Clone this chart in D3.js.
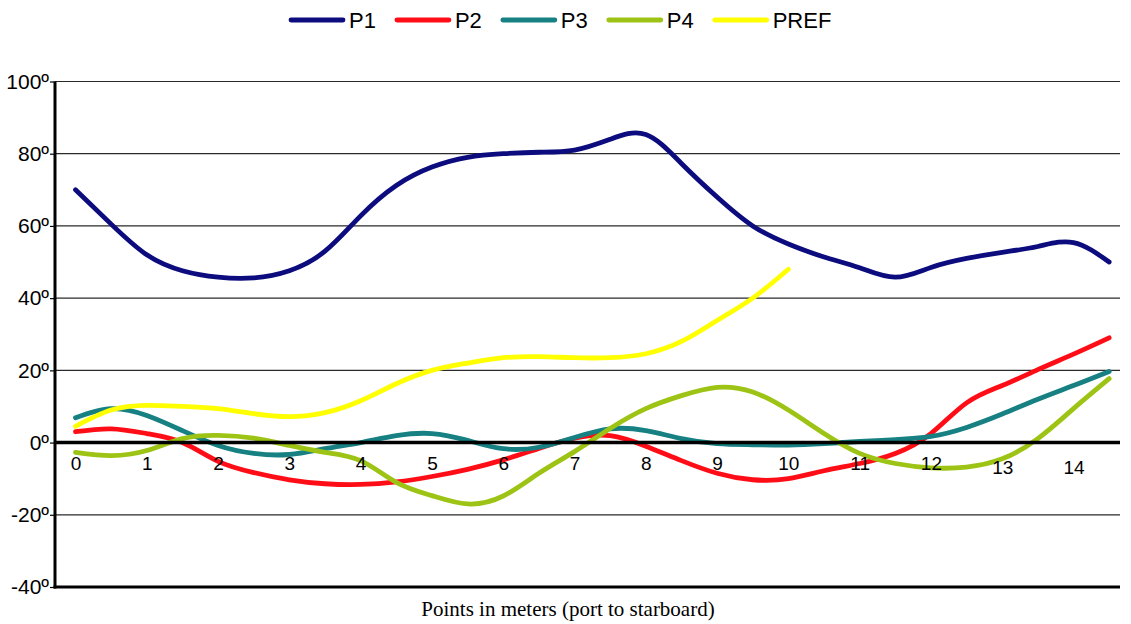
<!DOCTYPE html>
<html>
<head>
<meta charset="utf-8">
<script src="https://cdn.jsdelivr.net/npm/d3@7"></script>
<style>
  html, body { margin: 0; padding: 0; background: #fff; }
  svg { display: block; }
  text { font-family: "Liberation Sans", Arial, sans-serif; fill: #000; }
</style>
</head>
<body>
<svg id="chart" width="1131" height="624"></svg>
<script>
// ---------- data ----------
const xPoints = [0,0.5,1,1.5,2,2.5,3,3.5,4,4.5,5,5.5,6,6.5,7,7.5,8,8.5,9,9.5,10,10.5,11,11.5,12,12.5,13,13.5,14,14.5];
const xTickLabels = ["0","1","2","3","4","5","6","7","8","9","10","11","12","13","14"];
const yTickValues = [-40,-20,0,20,40,60,80,100];
const yTickLabels = ["-40º","-20º","0º","20º","40º","60º","80º","100º"];
const seriesNames = ["P1","P2","P3","P4","PREF"];
const seriesColors = ["#0c0c7e","#ff0d17","#168082","#9dc414","#ffff00"];

const p1 = [70,60.5,52,47.6,45.8,45.6,47.6,53,62.8,71.2,76.3,79,80,80.4,81,84,85.3,77.3,68,60,55,51.4,48.4,45.8,48.5,51,52.7,54.3,55.4,50];
const p2 = [3,3.8,2.5,0,-5.2,-8.3,-10.3,-11.4,-11.6,-10.9,-9.4,-7.4,-4.8,-1.6,1.2,1.9,-1,-5,-8.5,-10.3,-10,-7.8,-5.8,-3,2.5,11,15.8,20.2,24.5,29];
const p3 = [6.9,9.4,7.5,3.3,-0.8,-3,-3.3,-1.7,0,1.9,2.5,0.6,-1.7,-1.3,1.4,3.8,3.3,1.1,-0.3,-0.6,-0.7,-0.3,0.3,0.8,1.7,4.2,7.9,12,15.8,19.7];
const p4 = [-2.7,-3.6,-2.2,1.1,2,1.2,-0.8,-2.7,-5,-11,-14.7,-17,-14.8,-8.5,-2.5,3.9,9.4,13,15.3,14,9,2.5,-3,-5.8,-7,-6.8,-4.5,1.1,9.4,17.7];
const pref = [4.5,9,10.3,10,9.4,8,7.2,8.3,11.6,16.3,20,22,23.5,23.8,23.5,23.5,24.6,28,33.8,40,48];
const seriesValues = [p1, p2, p3, p4, pref];
const xTitle = "Points in meters (port to starboard)";

// ---------- layout ----------
const svg = d3.select("#chart");
const plotLeft = 55, plotRight = 1120, plotTop = 81.5, plotBottom = 587;

const x = d3.scaleLinear().domain([0, 14]).range([75.5, 1073.5]);
const y = d3.scaleLinear().domain([-40, 100]).range([plotBottom, plotTop]);

// gridlines
svg.append("g")
  .selectAll("line")
  .data(yTickValues.filter(v => v !== 0 && v !== -40))
  .join("line")
  .attr("x1", plotLeft).attr("x2", plotRight)
  .attr("y1", d => y(d)).attr("y2", d => y(d))
  .attr("stroke", "#2a2a2a").attr("stroke-width", 1.2);

// y axis (ticks + labels)
const yAxis = d3.axisLeft(y)
  .tickValues(yTickValues)
  .tickSize(5)
  .tickPadding(1)
  .tickFormat((d, i) => yTickLabels[i]);
const gy = svg.append("g").attr("transform", `translate(${plotLeft},0)`).call(yAxis);
gy.select(".domain").remove();
gy.selectAll(".tick line").attr("stroke", "#000").attr("stroke-width", 1.2);
gy.selectAll(".tick text")
  .style("font-family", '"Liberation Sans", Arial, sans-serif')
  .style("font-size", "21px").attr("fill", "#000");

// series lines
const lineGen = d3.line()
  .x((d, i) => x(xPoints[i]))
  .y(d => y(d))
  .curve(d3.curveNatural);

svg.append("g")
  .selectAll("path")
  .data(seriesValues)
  .join("path")
  .attr("d", d => lineGen(d))
  .attr("fill", "none")
  .attr("stroke", (d, i) => seriesColors[i])
  .attr("stroke-width", 4.8)
  .attr("stroke-linecap", "round")
  .attr("stroke-linejoin", "round");

// zero line
svg.append("line")
  .attr("x1", plotLeft).attr("x2", plotRight)
  .attr("y1", y(0)).attr("y2", y(0))
  .attr("stroke", "#000").attr("stroke-width", 3.5);
// bottom line
svg.append("line")
  .attr("x1", plotLeft - 1.5).attr("x2", plotRight)
  .attr("y1", plotBottom).attr("y2", plotBottom)
  .attr("stroke", "#000").attr("stroke-width", 3);
// left axis line
svg.append("line")
  .attr("x1", plotLeft).attr("x2", plotLeft)
  .attr("y1", plotTop).attr("y2", plotBottom + 1.5)
  .attr("stroke", "#000").attr("stroke-width", 3);

// x tick labels (category numbers under zero line)
const xAxis = d3.axisBottom(x)
  .tickValues(d3.range(xTickLabels.length))
  .tickSize(0)
  .tickPadding(0)
  .tickFormat((d, i) => xTickLabels[i]);
const gx = svg.append("g").attr("transform", `translate(0,${y(0)})`).call(xAxis);
gx.select(".domain").remove();
gx.selectAll(".tick text")
  .attr("y", 0)
  .attr("dy", (d, i) => i >= 13 ? 31 : 27)
  .style("font-family", '"Liberation Sans", Arial, sans-serif')
  .style("font-size", "19px").attr("fill", "#000");

// x title
svg.append("text")
  .attr("x", 568).attr("y", 616)
  .attr("text-anchor", "middle")
  .style("font-family", '"Liberation Serif", "Times New Roman", serif')
  .style("font-size", "21px")
  .text(xTitle);

// legend
const legend = svg.append("g");
let lx = 291;
seriesNames.forEach((name, i) => {
  const g = legend.append("g");
  g.append("line")
    .attr("x1", lx).attr("x2", lx + 52)
    .attr("y1", 20).attr("y2", 20)
    .attr("stroke", seriesColors[i]).attr("stroke-width", 4.8)
    .attr("stroke-linecap", "round");
  const t = g.append("text")
    .attr("x", lx + 58).attr("y", 28)
    .style("font-size", "22px")
    .text(name);
  const w = t.node().getComputedTextLength();
  lx += 52 + 6 + w + 21;
});
</script>
</body>
</html>
